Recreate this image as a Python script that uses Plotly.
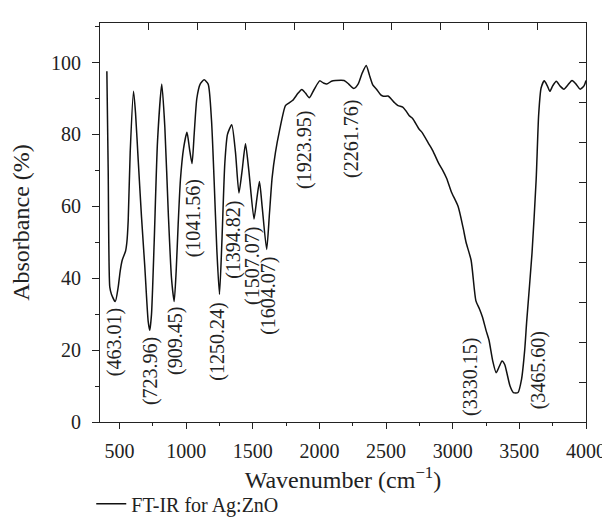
import plotly.graph_objects as go

wavenumber = [405, 415, 427, 440, 468, 490, 505, 520, 545, 555, 565, 580, 605, 620, 640, 665, 690,
              715, 727, 740, 760, 785, 817, 840, 866, 890, 910, 925, 940, 957, 980, 1006, 1025,
              1044, 1060, 1080, 1105, 1135, 1165, 1190, 1210, 1230, 1250, 1268, 1290, 1310, 1342,
              1370, 1396, 1420, 1445, 1470, 1509, 1530, 1550, 1570, 1604, 1625, 1645, 1670, 1700,
              1745, 1770, 1800, 1840, 1868, 1895, 1924, 1960, 2002, 2030, 2055, 2090, 2120, 2185,
              2220, 2258, 2290, 2320, 2351, 2375, 2400, 2430, 2460, 2480, 2515, 2540, 2564, 2590,
              2625, 2650, 2674, 2698, 2747, 2771, 2820, 2850, 2894, 2925, 2954, 2990, 3040, 3077,
              3100, 3138, 3174, 3200, 3223, 3250, 3272, 3300, 3326, 3350, 3370, 3390, 3406, 3430,
              3455, 3490, 3516, 3540, 3555, 3595, 3626, 3645, 3663, 3687, 3710, 3729, 3750, 3777,
              3805, 3834, 3865, 3895, 3925, 3956, 3985, 4000]
absorbance = [97.6, 70, 37.5, 35.5, 33.5, 37.5, 42, 45, 47.5, 50, 56, 75, 92, 86, 73, 57, 43,
              28, 25.5, 30, 50, 78, 94, 82, 58, 40, 33.5, 42, 55, 67.4, 76, 80.6, 76,
              71.9, 80, 90, 94, 95.2, 94, 84, 67, 48, 35.5, 50, 72, 80, 82.7,
              75, 63.7, 70, 77.4, 70, 56.5, 62, 66.9, 60, 48, 58, 68, 75, 81,
              88, 88.7, 89.5, 91.5, 92.5, 91.5, 90.2, 92.5, 94.9, 94.3, 94, 94.8, 95, 95,
              94, 92.8, 94, 97, 99.2, 96.5, 93.8, 92.5, 91, 90.6, 90.7, 89.8, 88.8, 88,
              87.6, 86.5, 85.2, 84.5, 81.5, 80.5, 77.4, 75.5, 72, 70, 67.8, 64, 60, 54.2,
              50, 45, 33.7, 31.5, 29.2, 25.5, 22.8, 17, 13.7, 15.5, 17, 16, 13.7, 10,
              8.2, 8.2, 11.8, 20, 28, 47, 67.4, 85.6, 92.9, 94.9, 93.5, 92, 93.5, 94.8,
              93.5, 92.6, 93.8, 95, 94, 92.6, 93.5, 95]

peak_labels = ["(463.01)", "(723.96)", "(909.45)", "(1041.56)", "(1250.24)", "(1394.82)",
               "(1507.07)", "(1604.07)", "(1923.95)", "(2261.76)", "(3330.15)", "(3465.60)"]
label_x = [463, 732, 920, 1057, 1233, 1355, 1501, 1619, 1892, 2246, 3132, 3645]
label_y = [22.1, 14.3, 22.4, 56.6, 22.4, 50.8, 43.4, 35.0, 75.7, 78.8, 12.6, 14.3]

x_ticks = [500, 1000, 1500, 2000, 2500, 3000, 3500, 4000]
y_ticks = [0, 20, 40, 60, 80, 100]

FONT = "Liberation Serif"
AX = "#222222"

fig = go.Figure()
fig.add_trace(go.Scatter(x=wavenumber, y=absorbance, mode="lines", name="FT-IR for Ag:ZnO",
                         line=dict(color="#111111", width=1.5, shape="spline", smoothing=0.6)))
fig.add_trace(go.Scatter(x=[None], y=[None], xaxis="x2", yaxis="y2", showlegend=False,
                         hoverinfo="skip"))

for t, lx, ly in zip(peak_labels, label_x, label_y):
    fig.add_annotation(x=lx, y=ly, text=t, textangle=-90, showarrow=False,
                       xanchor="center", yanchor="middle",
                       font=dict(family=FONT, size=20, color="#222"))

fig.update_layout(
    width=610, height=527,
    margin=dict(l=90, r=22, t=15, b=107),
    paper_bgcolor="white", plot_bgcolor="white",
    font=dict(family=FONT, size=20, color="#222"),
    showlegend=True,
    legend=dict(orientation="h", x=-0.018, xanchor="left", y=-0.205, yanchor="middle",
                font=dict(family=FONT, size=20, color="#222"), bgcolor="rgba(0,0,0,0)"),
    xaxis=dict(range=[353.5, 4000], tickvals=x_ticks, ticks="outside", ticklen=6, tickwidth=1.2,
               tickcolor=AX, showline=True, linecolor=AX, linewidth=1.2, showgrid=False,
               zeroline=False, ticklabelstandoff=5,
               minor=dict(dtick=250, ticks="outside", ticklen=3, tickcolor=AX, showgrid=False),
               title=dict(text="Wavenumber (cm<sup>−1</sup>)", standoff=10)),
    yaxis=dict(range=[0, 111], tickvals=y_ticks, ticks="outside", ticklen=7, tickwidth=1.2,
               tickcolor=AX, showline=True, linecolor=AX, linewidth=1.2, showgrid=False,
               zeroline=False, ticklabelstandoff=7,
               minor=dict(dtick=10, ticks="outside", ticklen=4, tickcolor=AX, showgrid=False),
               title=dict(text="Absorbance (%)", standoff=14)),
    xaxis2=dict(overlaying="x", side="top", anchor="y2", range=[0, 10], dtick=1,
                ticks="inside", ticklen=7, tickwidth=1.2, tickcolor=AX, showticklabels=False,
                showline=True, linecolor=AX, linewidth=1.2, showgrid=False, zeroline=False),
    yaxis2=dict(overlaying="y", side="right", anchor="x2", range=[0, 10], dtick=1,
                ticks="inside", ticklen=7, tickwidth=1.2, tickcolor=AX, showticklabels=False,
                showline=True, linecolor=AX, linewidth=1.2, showgrid=False, zeroline=False),
)

fig.write_html("out.html")
